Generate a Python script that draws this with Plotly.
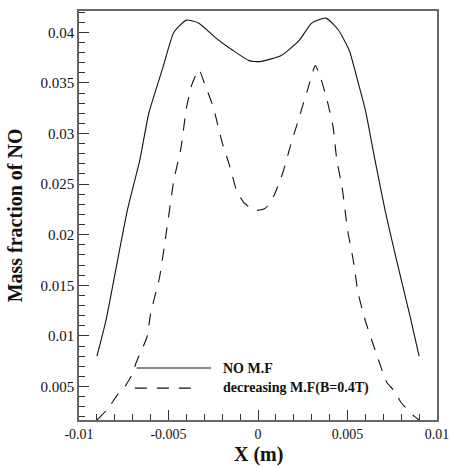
import plotly.graph_objects as go

# NO mass fraction across the section, without magnetic field
x_no_mf = [-0.0090, -0.0085, -0.0073, -0.0066, -0.0061, -0.0053, -0.0047, -0.0040,
           -0.0033, -0.0024, -0.0014, -0.0005, 0.0001, 0.0013, 0.0023, 0.0030,
           0.0038, 0.0045, 0.0051, 0.0056, 0.0060, 0.0065, 0.0071, 0.0077,
           0.0085, 0.0090]
y_no_mf = [0.0080, 0.0115, 0.0224, 0.0274, 0.0320, 0.0366, 0.0400, 0.0412,
           0.0409, 0.0395, 0.0382, 0.0372, 0.0371, 0.0377, 0.0392, 0.0409,
           0.0414, 0.0402, 0.0382, 0.0350, 0.0323, 0.0277, 0.0224, 0.0178,
           0.0119, 0.0080]

# NO mass fraction with decreasing magnetic field (B = 0.4 T)
x_dec_mf = [-0.0090, -0.0084, -0.0078, -0.0074, -0.0070, -0.0068, -0.0062, -0.0060,
            -0.0055, -0.0051, -0.0047, -0.0043, -0.0040, -0.0037, -0.0033, -0.0030,
            -0.0025, -0.0020, -0.0016, -0.0012, -0.0008, -0.0002, 0.0004, 0.0009,
            0.0014, 0.0018, 0.0023, 0.0028, 0.0032, 0.0035, 0.0039, 0.0042,
            0.0044, 0.0047, 0.0050, 0.0053, 0.0056, 0.0060, 0.0066, 0.0072,
            0.0076, 0.0080, 0.0087, 0.0090]
y_dec_mf = [0.0017, 0.0028, 0.0043, 0.0051, 0.0063, 0.0074, 0.0099, 0.0122,
            0.0158, 0.0205, 0.0254, 0.0286, 0.0325, 0.0348, 0.0363, 0.0350,
            0.0326, 0.0291, 0.0269, 0.0244, 0.0232, 0.0224, 0.0226, 0.0239,
            0.0262, 0.0287, 0.0316, 0.0345, 0.0367, 0.0355, 0.0330, 0.0306,
            0.0274, 0.0247, 0.0205, 0.0177, 0.0142, 0.0115, 0.0083, 0.0054,
            0.0046, 0.0034, 0.0021, 0.0017]

series_names = ["NO M.F", "decreasing M.F(B=0.4T)"]
x_ticks = [-0.01, -0.005, 0, 0.005, 0.01]
x_tick_text = ["-0.01", "-0.005", "0", "0.005", "0.01"]
y_ticks = [0.005, 0.01, 0.015, 0.02, 0.025, 0.03, 0.035, 0.04]
y_tick_text = ["0.005", "0.01", "0.015", "0.02", "0.025", "0.03", "0.035", "0.04"]

SERIF = "Liberation Serif"
DASH = "12px,10px"
INK = "#111111"

fig = go.Figure()
fig.add_trace(go.Scatter(x=x_no_mf, y=y_no_mf, mode="lines", name=series_names[0],
                         line=dict(color=INK, width=1.1, shape="spline", smoothing=0.5),
                         showlegend=False))
fig.add_trace(go.Scatter(x=x_dec_mf, y=y_dec_mf, mode="lines", name=series_names[1],
                         line=dict(color=INK, width=1.1, dash=DASH,
                                   shape="spline", smoothing=0.5),
                         showlegend=False))


def axis_style(rng, vals, text, tick0, size):
    return dict(
        range=rng, tickmode="array", tickvals=vals, ticktext=text,
        showline=True, mirror=True, linecolor="#666666", linewidth=1.5,
        showgrid=False, zeroline=False, automargin=False,
        ticks="inside", ticklen=10, tickwidth=1, tickcolor="#333333",
        tickfont=dict(family=SERIF, size=size, color=INK),
        ticklabeloverflow="allow",
        minor=dict(ticks="inside", ticklen=6, tickcolor="#333333",
                   tickmode="linear", tick0=tick0, dtick=0.001),
    )


# legend entries drawn as line samples with bold labels
legend_rows = [(0.161, 0.369, 0.127, "solid", series_names[0]),
               (0.156, 0.331, 0.078, DASH, series_names[1])]
for x0, x1, yy, dash, label in legend_rows:
    fig.add_shape(type="line", xref="paper", yref="paper", x0=x0, x1=x1, y0=yy, y1=yy,
                  line=dict(color=INK, width=1.1, dash=dash))
    fig.add_annotation(xref="paper", yref="paper", x=0.397, y=yy, xanchor="left",
                       yanchor="middle", showarrow=False, text=f"<b>{label}</b>",
                       font=dict(family=SERIF, size=14, color=INK))

# axis titles
fig.add_annotation(xref="paper", yref="paper", x=0.5, y=-0.085, xanchor="center",
                   yanchor="middle", showarrow=False, text="<b>X (m)</b>",
                   font=dict(family=SERIF, size=20, color=INK))
fig.add_annotation(xref="paper", yref="paper", x=-0.178, y=0.501, xanchor="center",
                   yanchor="middle", showarrow=False, textangle=-90,
                   text="<b>Mass fraction of NO</b>",
                   font=dict(family=SERIF, size=20, color=INK))

fig.update_layout(
    width=450, height=468, margin=dict(l=79, r=13, t=11, b=48, autoexpand=False),
    font=dict(family=SERIF, size=15, color=INK),
    paper_bgcolor="white", plot_bgcolor="white",
    xaxis=axis_style([-0.01, 0.01], x_ticks, x_tick_text, -0.01, 14),
    yaxis=axis_style([0.0017, 0.0421], y_ticks, y_tick_text, 0, 15),
)

fig.write_html("out.html")
